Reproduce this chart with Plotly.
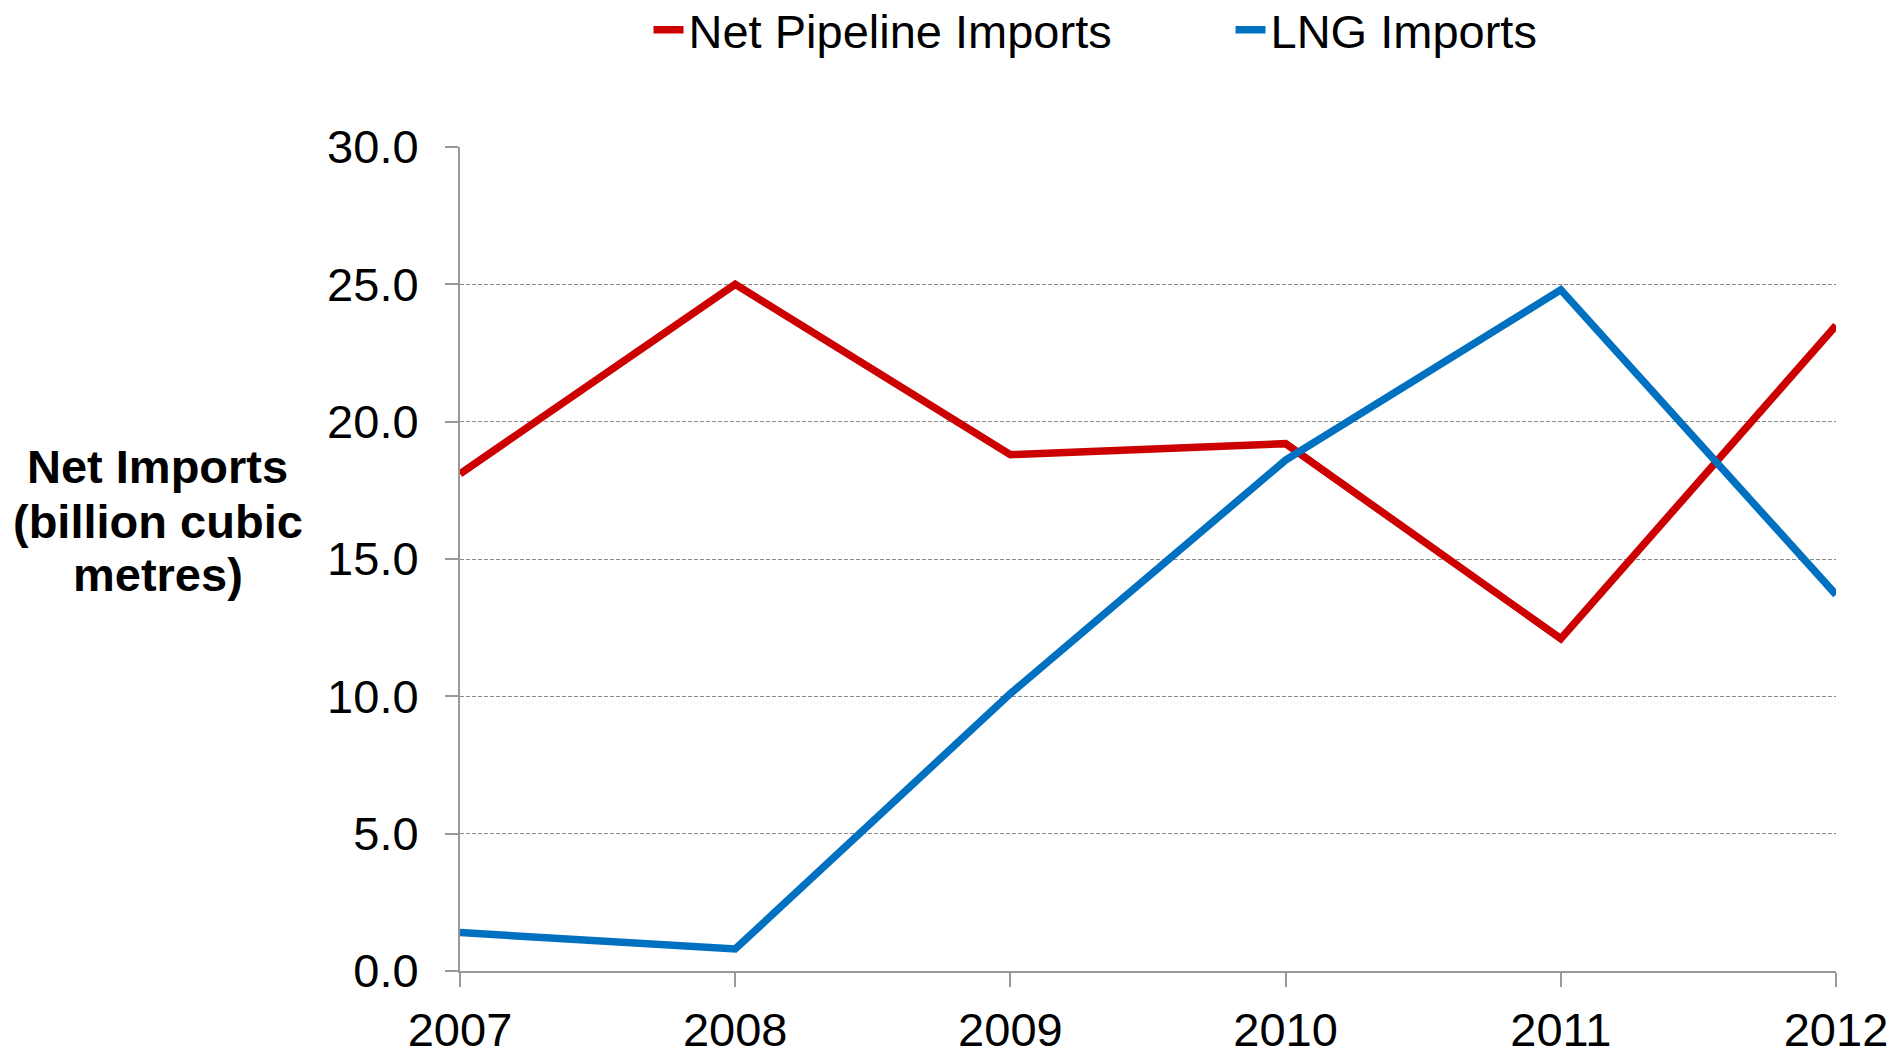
import plotly.graph_objects as go

years = [2007, 2008, 2009, 2010, 2011, 2012]
pipeline_imports = [18.1, 25.0, 18.8, 19.2, 12.1, 23.5]
lng_imports = [1.4, 0.8, 10.1, 18.6, 24.8, 13.7]
y_ticks = [0, 5, 10, 15, 20, 25, 30]
y_title_lines = ["Net Imports", "(billion cubic", "metres)"]

FONT = "Liberation Sans, Arial, sans-serif"
FS = 47
AXIS_GRAY = "#999999"

fig = go.Figure()
fig.add_trace(go.Scatter(
    x=years, y=pipeline_imports, mode="lines", name="Net Pipeline Imports",
    line=dict(color="#CC0000", width=7.5), cliponaxis=False,
))
fig.add_trace(go.Scatter(
    x=years, y=lng_imports, mode="lines", name="LNG Imports",
    line=dict(color="#0070C0", width=7.5), cliponaxis=False,
))

# y-axis title, one annotation per line for tight line spacing
title_annotations = [
    dict(
        text=f"<b>{line}</b>",
        xref="paper", yref="paper", x=-0.2195, y=yy,
        xanchor="center", yanchor="middle", align="center",
        showarrow=False, font=dict(size=FS, family=FONT, color="black"),
    )
    for line, yy in zip(y_title_lines, [0.612, 0.546, 0.481])
]

fig.update_layout(
    width=1899, height=1051,
    margin=dict(l=460, r=63, t=147, b=80, autoexpand=False),
    paper_bgcolor="white", plot_bgcolor="white",
    font=dict(family=FONT, size=FS, color="black"),
    showlegend=True,
    legend=dict(
        orientation="h", x=0.137, xanchor="left", y=1.1416, yanchor="middle",
        entrywidth=537, entrywidthmode="pixels",
        font=dict(size=FS), bgcolor="rgba(0,0,0,0)", tracegroupgap=0,
    ),
    xaxis=dict(
        range=[2007, 2012], tickmode="array", tickvals=years,
        ticktext=[str(y) for y in years],
        showgrid=False, zeroline=False,
        showline=True, linecolor=AXIS_GRAY, linewidth=2,
        ticks="outside", ticklen=14, tickcolor=AXIS_GRAY, tickwidth=1.5,
        ticklabelstandoff=3,
        tickfont=dict(size=FS),
    ),
    yaxis=dict(
        range=[0, 30], tickmode="array", tickvals=y_ticks,
        ticktext=[f"{v:.1f}" for v in y_ticks],
        showgrid=True, gridcolor="#8A8A8A", griddash="4px,2px", gridwidth=1,
        zeroline=False,
        showline=True, linecolor=AXIS_GRAY, linewidth=2,
        ticks="outside", ticklen=13, tickcolor=AXIS_GRAY, tickwidth=1.5,
        ticklabelstandoff=17,
        tickfont=dict(size=FS),
    ),
    annotations=title_annotations,
)

fig.write_html("out.html")
